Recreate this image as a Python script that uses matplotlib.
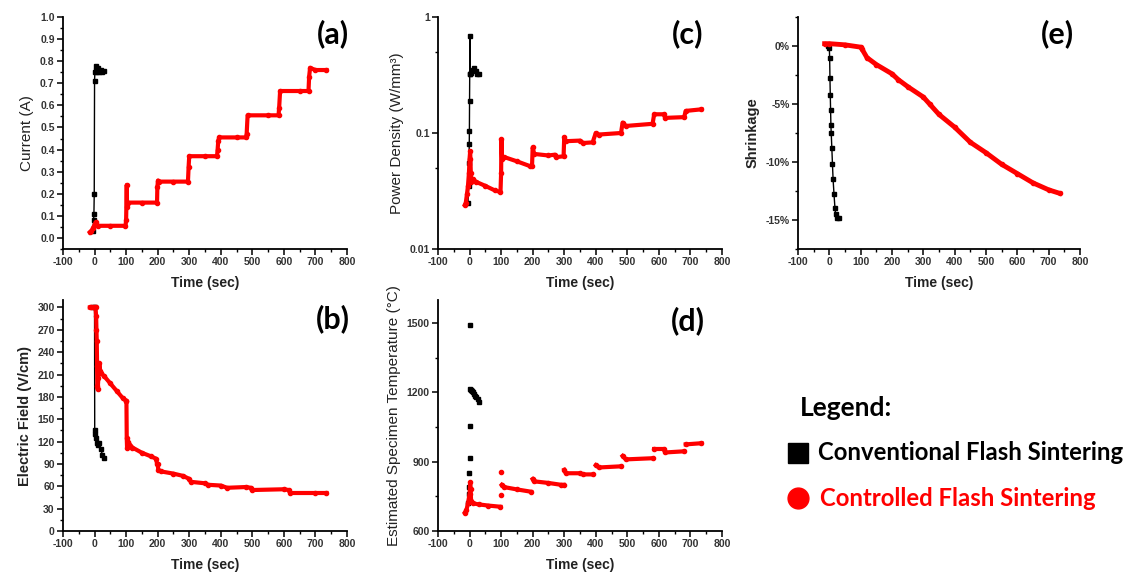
import numpy as np
import matplotlib
matplotlib.use("Agg")
import matplotlib.pyplot as plt
from matplotlib.lines import Line2D
from matplotlib.ticker import MultipleLocator, PercentFormatter, LogLocator, NullFormatter

plt.rcParams["font.family"] = ["Liberation Sans", "DejaVu Sans"]
plt.rcParams["font.weight"] = "bold"
plt.rcParams["axes.unicode_minus"] = False

nan = np.nan

# ---- (a) current ----
cur_conv_t = [-5, -3, -2, -1, 0, 1, 3, 5, 8, 10, 15, 20, 25, 30]
cur_conv_v = [0.03, 0.08, 0.11, 0.20, 0.71, 0.75, 0.76, 0.78, 0.75, 0.77, 0.75, 0.76, 0.75, 0.755]
cur_ctrl_t = [-15, -10, -5, 0, 3, 10, 50, 98, 100, 102, 103, 105, 150, 198, 199, 201, 205, 250, 296,
              298, 300, 350, 388, 390, 392, 395, 450, 480, 482, 485, 550, 583, 585, 588, 650, 678,
              680, 683, 700, 735]
cur_ctrl_v = [0.025, 0.03, 0.045, 0.06, 0.07, 0.055, 0.055, 0.055, 0.08, 0.24, 0.14, 0.16, 0.16, 0.16,
              0.23, 0.26, 0.255, 0.255, 0.255, 0.32, 0.37, 0.37, 0.37, 0.40, 0.44, 0.455, 0.455, 0.455,
              0.47, 0.555, 0.555, 0.555, 0.59, 0.665, 0.665, 0.665, 0.73, 0.77, 0.76, 0.76]

# ---- (b) electric field ----
ef_conv_t = [-5, 0, 0.5, 2, 5, 8, 10, 15, 20, 25, 30]
ef_conv_v = [300, 300, 135, 130, 125, 118, 115, 118, 110, 102, 98]
ef_ctrl_t = [-15, -10, -5, 0, 3, 5, 6, 7, 8, 9, 10, 12, 15, 18, 20, 30, 50, 70, 90, 100, 101, 102, 103,
             105, 120, 150, 180, 195, 198, 200, 202, 210, 250, 280, 300, 305, 350, 360, 400, 420, 480,
             495, 500, 600, 615, 620, 700, 735]
ef_ctrl_v = [300, 300, 300, 300, 300, 288, 270, 255, 222, 195, 190, 205, 225, 215, 212, 208, 198, 188,
             178, 175, 175, 125, 112, 120, 112, 105, 100, 97, 90, 90, 82, 80, 77, 74, 70, 66, 64, 62,
             61, 58, 59, 58, 55, 56, 55, 51, 51, 51]

# ---- (c) power density ----
pd_conv_t = [-5, -3, -2, -1, -0.5, 0, 0.5, 1, 2, 5, 10, 15, 20, 25, 30]
pd_conv_v = [0.025, 0.035, 0.055, 0.08, 0.105, 0.19, 0.32, 0.68, 0.32, 0.33, 0.35, 0.36, 0.34, 0.32, 0.32]
pd_ctrl_t = [-15, -12, -8, -5, -2, 0, 2, 4, 6, 10, 20, 50, 80, 98, 100, 101, 103, 110, 150, 190, 198,
             200, 205, 250, 270, 275, 298, 300, 305, 350, 360, 390, 400, 410, 480, 485, 495, 580, 585,
             615, 620, 680, 685, 735]
pd_ctrl_v = [0.024, 0.025, 0.03, 0.035, 0.045, 0.06, 0.07, 0.045, 0.038, 0.04, 0.038, 0.035, 0.032,
             0.031, 0.045, 0.088, 0.06, 0.062, 0.057, 0.052, 0.052, 0.075, 0.066, 0.064, 0.065, 0.062,
             0.063, 0.092, 0.085, 0.086, 0.082, 0.083, 0.1, 0.097, 0.1, 0.123, 0.115, 0.12, 0.145,
             0.145, 0.135, 0.137, 0.155, 0.16]

# ---- (d) estimated temperature ----
tmp_conv_t = [-5, -3, -2, -1, 0, 0, 0, 2, 4, 6, 8, 10, 14, 18, 22, 26, 30]
tmp_conv_v = [720, 760, 790, 850, 915, 1055, 1490, 1215, 1212, 1210, 1205, 1200, 1195, 1185, 1180, 1170, 1160]
# plateaus separated by nan, spike points kept as isolated dots
tmp_ctrl_t = [-15, -10, -5, 0, 2, 3, 5, 10, 30, 60, 98, nan, 100, nan, 101, nan, 102, 110, 150, 195,
              nan, 200, 205, 250, 290, 298, nan, 300, 305, 350, 360, 390, nan, 400, 410, 480, nan,
              485, 495, 580, nan, 585, 615, 620, 680, nan, 685, 735]
tmp_ctrl_v = [680, 690, 720, 760, 810, 780, 730, 720, 715, 710, 705, nan, 755, nan, 855, nan, 800, 790,
              780, 770, nan, 825, 815, 808, 800, 800, nan, 865, 850, 850, 845, 845, nan, 885, 875, 880,
              nan, 925, 910, 915, nan, 955, 955, 940, 945, nan, 975, 980]

# ---- (e) shrinkage (%) ----
shr_conv_t = [-5, 0, 1, 2, 3, 4, 5, 6, 8, 10, 12, 15, 18, 20, 25, 30]
shr_conv_v = [0, -0.2, -1.0, -2.8, -4.2, -5.5, -6.8, -7.5, -8.8, -10.2, -11.5, -12.8, -14.0, -14.5, -14.8, -14.8]
shr_ctrl_t = [-15, 0, 50, 100, 105, 120, 150, 200, 220, 250, 300, 320, 350, 400, 450, 500, 550, 600, 650, 700, 735]
shr_ctrl_v = [0.2, 0.2, 0.1, -0.1, -0.3, -1.0, -1.6, -2.4, -2.9, -3.5, -4.4, -5.0, -5.9, -7.0, -8.3,
              -9.2, -10.2, -11.0, -11.8, -12.4, -12.7]

RED = "#ff0000"
TICK_COLOR = "#333333"


def style_axis(ax, ylabel, panel, px, py, ybold=False):
    for side in ["top", "right"]:
        ax.spines[side].set_visible(False)
    for side in ["left", "bottom"]:
        ax.spines[side].set_linewidth(1.3)
    ax.set_xlim(-100, 800)
    ax.xaxis.set_major_locator(MultipleLocator(100))
    ax.xaxis.set_minor_locator(MultipleLocator(50))
    ax.tick_params(which="major", direction="out", length=4, width=1.1, labelsize=7.5,
                   labelcolor=TICK_COLOR, pad=2)
    ax.tick_params(which="minor", direction="out", length=2.5, width=1.0)
    ax.set_xlabel("Time (sec)", fontsize=10, fontweight="bold", color="#222222", labelpad=6)
    ax.set_ylabel(ylabel, fontsize=10.5 if ybold else 11, color="#222222",
                  fontweight="bold" if ybold else "normal", labelpad=4)
    ax.text(px, py, panel, transform=ax.transAxes, ha="center", va="center",
            fontsize=22, fontweight="bold", family="Lato")


def draw_conv(ax, t, v, line=True):
    ax.plot(t, v, color="black", lw=1.0 if line else 0, marker="s", ms=3, zorder=3)


def draw_ctrl(ax, t, v, lw=3.0):
    ax.plot(t, v, color=RED, lw=lw, marker="o", ms=3, zorder=4)


fig = plt.figure(figsize=(11.31, 5.77), dpi=100)
W, H = 1131, 577


def box(x0, x1, y0, y1):
    return [x0 / W, 1 - y1 / H, (x1 - x0) / W, (y1 - y0) / H]


ax_a = fig.add_axes(box(63, 347, 17, 249))
ax_b = fig.add_axes(box(63, 347, 300, 531))
ax_c = fig.add_axes(box(438, 722, 17, 249))
ax_d = fig.add_axes(box(438, 722, 300, 531))
ax_e = fig.add_axes(box(798, 1080, 17, 249))

# (a)
draw_conv(ax_a, cur_conv_t, cur_conv_v)
draw_ctrl(ax_a, cur_ctrl_t, cur_ctrl_v)
ax_a.set_ylim(-0.05, 1.0)
ax_a.yaxis.set_major_locator(MultipleLocator(0.1))
ax_a.yaxis.set_minor_locator(MultipleLocator(0.05))
ax_a.yaxis.set_major_formatter(lambda y, _: f"{y:.1f}")
style_axis(ax_a, "Current (A)", "(a)", 0.95, 0.93)

# (b)
draw_conv(ax_b, ef_conv_t, ef_conv_v)
draw_ctrl(ax_b, ef_ctrl_t, ef_ctrl_v)
ax_b.set_ylim(0, 310)
ax_b.yaxis.set_major_locator(MultipleLocator(30))
ax_b.yaxis.set_minor_locator(MultipleLocator(15))
style_axis(ax_b, "Electric Field (V/cm)", "(b)", 0.95, 0.92, ybold=True)

# (c)
draw_conv(ax_c, pd_conv_t, pd_conv_v)
draw_ctrl(ax_c, pd_ctrl_t, pd_ctrl_v)
ax_c.set_yscale("log")
ax_c.set_ylim(0.01, 1)
ax_c.set_yticks([0.01, 0.1, 1])
ax_c.set_yticklabels(["0.01", "0.1", "1"])
ax_c.yaxis.set_minor_locator(LogLocator(base=10, subs=[5]))
ax_c.yaxis.set_minor_formatter(NullFormatter())
style_axis(ax_c, "Power Density (W/mm³)", "(c)", 0.88, 0.93)

# (d)
draw_conv(ax_d, tmp_conv_t, tmp_conv_v, line=False)
ax_d.plot(tmp_ctrl_t, tmp_ctrl_v, color=RED, lw=3.0, marker="o", ms=3, zorder=4)
ax_d.set_ylim(600, 1600)
ax_d.yaxis.set_minor_locator(MultipleLocator(150))
ax_d.set_yticks([600, 900, 1200, 1500])
style_axis(ax_d, "Estimated Specimen Temperature (°C)", "(d)", 0.88, 0.91)

# (e)
draw_conv(ax_e, shr_conv_t, shr_conv_v)
draw_ctrl(ax_e, shr_ctrl_t, shr_ctrl_v, lw=3.5)
ax_e.set_ylim(-17.5, 2.5)
ax_e.yaxis.set_major_locator(MultipleLocator(5))
ax_e.yaxis.set_minor_locator(MultipleLocator(2.5))
ax_e.yaxis.set_major_formatter(PercentFormatter(decimals=0))
style_axis(ax_e, "Shrinkage", "(e)", 0.92, 0.93, ybold=True)

# legend block
fig.text(800 / W, 1 - 408 / H, "Legend:", family="Lato", fontweight="bold", fontsize=19,
         ha="left", va="center", color="black")
fig.text(818 / W, 1 - 453 / H, "Conventional Flash Sintering", family="Lato", fontweight="bold",
         fontsize=17.2, ha="left", va="center", color="black")
fig.text(820 / W, 1 - 498 / H, "Controlled Flash Sintering", family="Lato", fontweight="bold",
         fontsize=17.2, ha="left", va="center", color=RED)
fig.add_artist(Line2D([798 / W], [1 - 453 / H], transform=fig.transFigure, marker="s", ms=14,
                      color="black", lw=0))
fig.add_artist(Line2D([798 / W], [1 - 498 / H], transform=fig.transFigure, marker="o", ms=15,
                      color=RED, lw=0))

fig.savefig("out.png", dpi=100)
